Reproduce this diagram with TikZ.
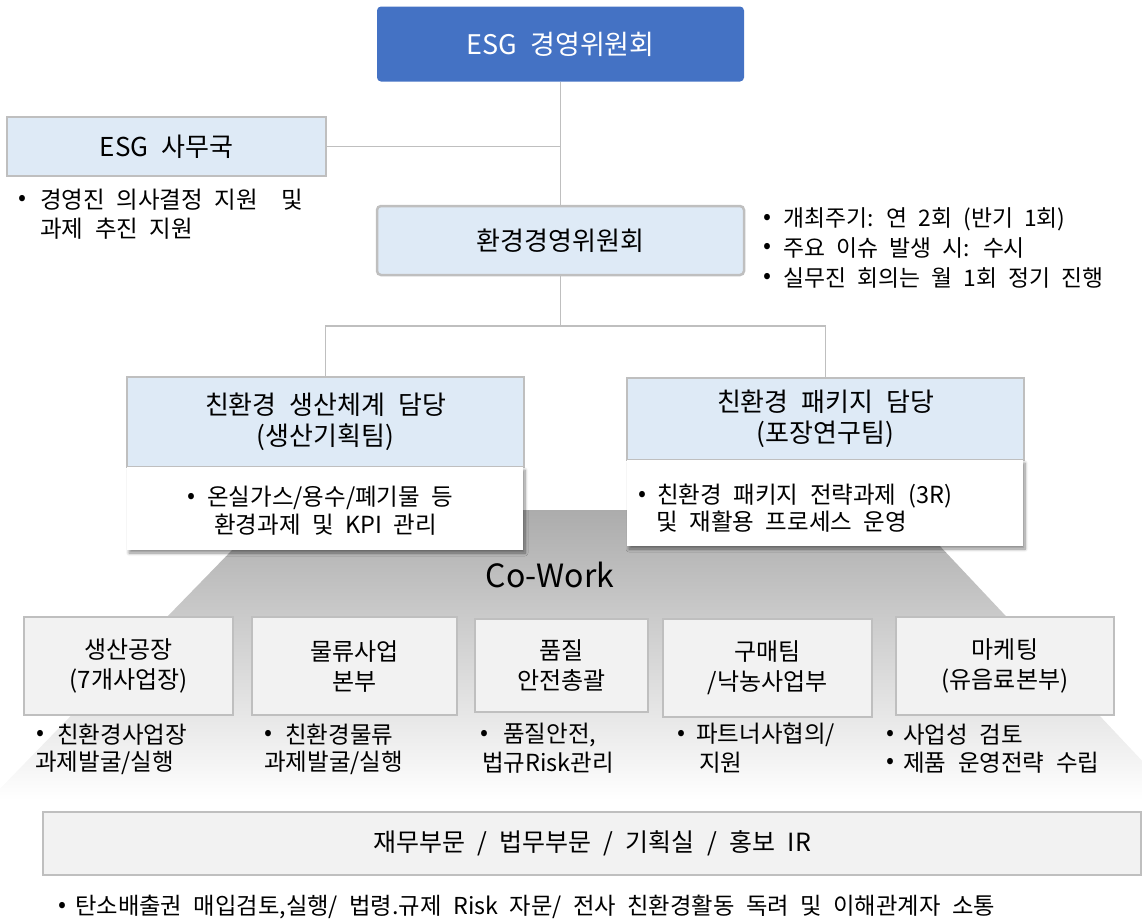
\documentclass[tikz,border=0pt]{standalone}
\usepackage{fontspec}
\setmainfont[WordSpace=2.2]{Noto Sans CJK KR}
\usetikzlibrary{shadows.blur}

\definecolor{topblue}{HTML}{4472C4}
\definecolor{lblue}{HTML}{DEEAF6}
\definecolor{bord}{HTML}{BFBFBF}
\definecolor{lgray}{HTML}{F2F2F2}
\definecolor{linegray}{HTML}{BFBFBF}
\definecolor{traptop}{RGB}{172,172,172}

\newcommand{\fsz}[2]{\fontsize{#1}{#2}\selectfont}

\begin{document}
\begin{tikzpicture}[x=1pt,y=-1pt,
  box/.style={draw=bord, line width=2.5pt, inner sep=0pt, align=center, text=black},
  bluebox/.style={box, fill=lblue, font=\fsz{26}{31}},
  graybox/.style={box, fill=lgray, font=\fsz{24}{30}},
  whitebox/.style={fill=white, inner sep=0pt, blur shadow={shadow xshift=2pt, shadow yshift=-3pt, shadow blur radius=3pt, shadow blur steps=8, shadow opacity=45}},
  conn/.style={draw=linegray, line width=1.5pt},
  btxt/.style={inner sep=0pt, anchor=west, font=\fsz{23.5}{28}},
  bul/.style={inner sep=0pt, anchor=center, font=\fsz{23.5}{28}},
]
\useasboundingbox (0,0) rectangle (1142,919);

% Co-Work trapezoid
\begin{scope}
  \clip (0,0) rectangle (1142,919);
  \shade[top color=traptop, bottom color=white] (271,510) -- (906,510) -- (1179,800) -- (-11,800) -- cycle;
\end{scope}

% top level
\node[fill=topblue, rounded corners=4pt, minimum width=367pt, minimum height=75pt, inner sep=0pt, text=white, font=\fsz{27}{32}] (esg) at (560.5,44) {ESG 경영위원회};

\node[bluebox, minimum width=319pt, minimum height=59pt] (office) at (166.5,146.5) {ESG 사무국};

\node[bluebox, rounded corners=4pt, minimum width=367pt, minimum height=69pt] (envc) at (560.5,240.5) {환경경영위원회};

\node[bluebox, minimum width=397pt, minimum height=90pt] (dept1) at (325.5,422) {친환경 생산체계 담당\\(생산기획팀)};
\node[bluebox, minimum width=397pt, minimum height=82pt] (dept2) at (825.5,419) {친환경 패키지 담당\\(포장연구팀)};

\coordinate (bus) at (560.5,326);
\draw[conn] (esg.south) -- (envc.north);
\draw[conn] (office.east) -- (office.east -| esg.south);
\draw[conn] (envc.south) -- (bus);
\draw[conn] (bus) -| (dept1.north);
\draw[conn] (bus) -| (dept2.north);

% office bullets
\node[bul] (ob1) at (22,200) {•};
\node[btxt] (ot1) at (40,200) {경영진 의사결정 지원~~및};
\node[btxt] (ot2) at (40,229) {과제 추진 지원};

% committee bullets
\node[bul] (cb1) at (767,219) {•};
\node[btxt, font=\fsz{22.8}{28}] (ct1) at (783,219) {개최주기: 연 2회 (반기 1회)};
\node[bul] (cb2) at (767,248) {•};
\node[btxt, font=\fsz{22.8}{28}] (ct2) at (783,248) {주요 이슈 발생 시: 수시};
\node[bul] (cb3) at (767,278) {•};
\node[btxt, font=\fsz{22.8}{28}] (ct3) at (783,278) {실무진 회의는 월 1회 정기 진행};

% white description boxes
\node[whitebox, minimum width=396pt, minimum height=83pt] (w1) at (325,508.5) {};
\node[bul] (w1b) at (191,498) {•};
\node[btxt] (w1t1) at (207,498) {온실가스/용수/폐기물 등};
\node[btxt] (w1t2) at (214,525) {환경과제 및 KPI 관리};

\node[whitebox, minimum width=396pt, minimum height=86pt] (w2) at (825,503) {};
\node[bul] (w2b) at (642,496) {•};
\node[btxt] (w2t1) at (657,496) {친환경 패키지 전략과제 (3R)};
\node[btxt] (w2t2) at (656,522) {및 재활용 프로세스 운영};

\node[inner sep=0pt, font=\fsz{32}{36}] (cowork) at (550,574.5) {Co-Work};

% co-work boxes
\node[graybox, minimum width=209pt, minimum height=98pt] (b1) at (128.5,666) {생산공장\\(7개사업장)};
\node[graybox, minimum width=205pt, minimum height=98pt] (b2) at (354.5,666) {물류사업\\본부};
\node[graybox, minimum width=173pt, minimum height=93pt] (b3) at (561.5,665.5) {품질\\안전총괄};
\node[graybox, minimum width=209pt, minimum height=98pt] (b4) at (767.5,668) {구매팀\\/낙농사업부};
\node[graybox, minimum width=218pt, minimum height=98pt] (b5) at (1005,666) {마케팅\\(유음료본부)};

\node[bul] (b1b) at (40,735) {•};
\node[btxt] (b1t1) at (57,735) {친환경사업장};
\node[btxt] (b1t2) at (35,763) {과제발굴/실행};

\node[bul] (b2b) at (268,735) {•};
\node[btxt] (b2t1) at (285,735) {친환경물류};
\node[btxt] (b2t2) at (264,763) {과제발굴/실행};

\node[bul] (b3b) at (484,735) {•};
\node[btxt] (b3t1) at (503,735) {품질안전,};
\node[btxt] (b3t2) at (482,763) {법규Risk관리};

\node[bul] (b4b) at (681,735) {•};
\node[btxt] (b4t1) at (696,735) {파트너사협의/};
\node[btxt] (b4t2) at (699,763) {지원};

\node[bul] (b5b1) at (890,735) {•};
\node[btxt] (b5t1) at (903,735) {사업성 검토};
\node[bul] (b5b2) at (890,763) {•};
\node[btxt] (b5t2) at (903,763) {제품 운영전략 수립};

% support functions
\node[graybox, line width=2.5pt, minimum width=1098pt, minimum height=63pt, font=\fsz{25}{30}] (supp) at (592,843.5) {재무부문 / 법무부문 / 기획실 / 홍보 IR};

\node[bul] (sb) at (62,907) {•};
\node[btxt, font=\fsz{23.3}{28}] (st) at (75,907) {탄소배출권 매입검토,실행/ 법령.규제 Risk 자문/ 전사 친환경활동 독려 및 이해관계자 소통};
\end{tikzpicture}
\end{document}
